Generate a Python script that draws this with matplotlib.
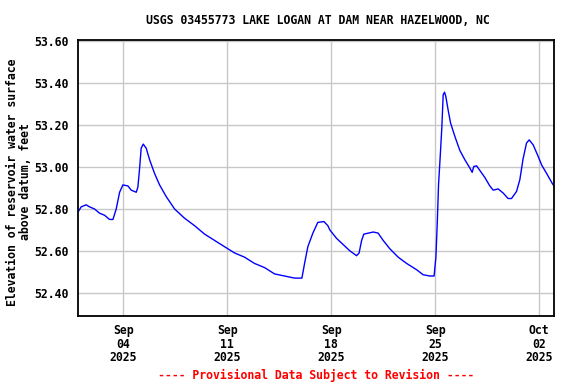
import matplotlib
matplotlib.use('Agg')
import matplotlib.pyplot as plt
import numpy as np
import pandas as pd

# gage height readings, days since 2025-09-01 00:00
day_offsets = [0.0, 0.17, 0.51, 0.74, 1.07, 1.41, 1.75, 2.08, 2.31, 2.53, 2.76, 2.98,
               3.32, 3.54, 3.88, 3.99, 4.10, 4.21, 4.35, 4.55, 4.78, 5.11, 5.45, 5.89,
               6.46, 7.13, 7.81, 8.48, 9.15, 9.82, 10.50, 11.17, 11.84, 12.52, 13.19,
               13.86, 14.54, 15.03, 15.21, 15.43, 15.77, 16.10, 16.51, 16.78, 16.91,
               17.36, 17.81, 18.26, 18.71, 18.88, 19.05, 19.20, 19.83, 20.16, 20.50,
               20.95, 21.51, 22.08, 22.75, 23.19, 23.64, 23.93, 24.05, 24.14, 24.23,
               24.34, 24.45, 24.54, 24.63, 24.72, 24.88, 25.04, 25.33, 25.66, 26.00,
               26.34, 26.49, 26.60, 26.79, 27.01, 27.35, 27.68, 27.91, 28.24, 28.58,
               28.91, 29.14, 29.48, 29.70, 29.92, 30.15, 30.33, 30.60, 30.94, 31.17,
               31.50, 31.90, 32.0]
elevation = [52.79, 52.81, 52.82, 52.81, 52.80, 52.78, 52.77, 52.75, 52.75, 52.80, 52.88, 52.915,
             52.91, 52.89, 52.88, 52.905, 52.99, 53.09, 53.11, 53.09, 53.035, 52.97, 52.915, 52.86,
             52.80, 52.756, 52.72, 52.68, 52.65, 52.62, 52.59, 52.57, 52.54, 52.52, 52.49,
             52.48, 52.47, 52.47, 52.54, 52.62, 52.685, 52.736, 52.74, 52.72, 52.70,
             52.66, 52.63, 52.60, 52.577, 52.59, 52.65, 52.68, 52.69, 52.685, 52.65,
             52.61, 52.57, 52.54, 52.51, 52.486, 52.48, 52.48, 52.57, 52.73, 52.92,
             53.05, 53.19, 53.345, 53.358, 53.337, 53.27, 53.21, 53.146, 53.08, 53.035,
             52.995, 52.975, 53.003, 53.006, 52.984, 52.95, 52.91, 52.89, 52.896, 52.876,
             52.85, 52.85, 52.884, 52.94, 53.04, 53.115, 53.13, 53.106, 53.05, 53.01,
             52.97, 52.92, 52.91]

y_ticks = [52.40, 52.60, 52.80, 53.00, 53.20, 53.40, 53.60]
x_tick_dates = ['2025-09-04', '2025-09-11', '2025-09-18', '2025-09-25', '2025-10-02']

start = pd.Timestamp('2025-09-01')
times = [start + pd.Timedelta(days=d) for d in day_offsets]

plt.rcParams['font.family'] = 'DejaVu Sans Mono'
plt.rcParams['font.weight'] = 'bold'
plt.rcParams['font.size'] = 8.3

fig = plt.figure(figsize=(5.76, 3.84), dpi=100)
ax = fig.add_axes([78 / 576, 1 - 316 / 384, (554 - 78) / 576, (316 - 40) / 384])

ax.plot(times, elevation, color='#0000ff', linewidth=1.0)

ax.set_xlim(start - pd.Timedelta(hours=1), pd.Timestamp('2025-10-03'))
ax.set_ylim(52.289, 53.607)

ax.set_yticks(y_ticks)
ax.set_yticklabels([f'{v:.2f}' for v in y_ticks])
xt = pd.to_datetime(x_tick_dates)
ax.set_xticks(xt)
ax.set_xticklabels([d.strftime('%b\n%d\n%Y') for d in xt], linespacing=1.05)

ax.grid(True, color='#c8c8c8', linewidth=1.0)
ax.set_axisbelow(True)
ax.tick_params(length=0, pad=7)
ax.tick_params(axis='x', pad=6)
for s in ax.spines.values():
    s.set_linewidth(1.3)

# y label placed by hand so it sits inside the figure edge
fig.text(19 / 576, 1 - 182 / 384, 'Elevation of reservoir water surface\nabove datum, feet',
         rotation=90, ha='center', va='center', linespacing=1.0)
fig.text(318 / 576, 1 - 20 / 384, 'USGS 03455773 LAKE LOGAN AT DAM NEAR HAZELWOOD, NC',
         ha='center', va='center')
fig.text(316 / 576, 1 - 375 / 384, '---- Provisional Data Subject to Revision ----',
         ha='center', va='center', color='red')

fig.savefig('out.png', dpi=100)
